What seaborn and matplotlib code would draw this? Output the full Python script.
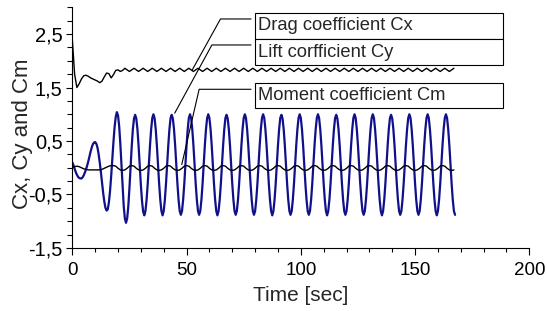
import numpy as np
import matplotlib
matplotlib.use("Agg")
import matplotlib.pyplot as plt
from matplotlib.patches import Rectangle
from matplotlib.ticker import FixedLocator, MultipleLocator, FuncFormatter
import seaborn as sns

# time grids (sec)
t_fine = np.arange(0, 168, 0.5)    # for Cy
t_coarse = np.arange(0, 168, 1.0)  # for Cx and Cm

# Lift coefficient Cy, read every 0.5 s
cy = [
    # 0 - 4.5 s
    0.10, 0.05, -0.02, -0.08, -0.13, -0.17, -0.19, -0.20, -0.20, -0.18,
    # 5 - 9.5 s
    -0.14, -0.09, -0.03, 0.04, 0.12, 0.21, 0.30, 0.38, 0.44, 0.47,
    # 10 - 14.5 s
    0.48, 0.45, 0.38, 0.26, 0.10, -0.08, -0.28, -0.47, -0.63, -0.75,
    # 15 - 19.5 s
    -0.80, -0.78, -0.65, -0.44, -0.16, 0.16, 0.48, 0.76, 0.95, 1.04,
    # 20 - 24.5 s
    0.98, 0.78, 0.46, 0.06, -0.36, -0.72, -0.95, -1.03, -0.95, -0.72,
    # 25 - 29.5 s
    -0.38, 0.02, 0.40, 0.72, 0.92, 0.99, 0.92, 0.72, 0.41, 0.05,
    # 30 - 35 s
    -0.32, -0.62, -0.82, -0.89, -0.81, -0.60, -0.30, 0.06, 0.42, 0.72,
    0.93,
    # 35.5 s onward, one cycle per row
    1.00, 0.93, 0.72, 0.42, 0.06, -0.30, -0.60, -0.81, -0.89, -0.81, -0.60, -0.30, 0.06, 0.42, 0.72, 0.93,
    0.99, 0.92, 0.72, 0.42, 0.06, -0.30, -0.60, -0.81, -0.88, -0.81, -0.60, -0.30, 0.06, 0.42, 0.72, 0.93,
    1.00, 0.93, 0.72, 0.42, 0.06, -0.30, -0.60, -0.81, -0.88, -0.81, -0.60, -0.30, 0.06, 0.42, 0.72, 0.93,
    1.00, 0.93, 0.72, 0.42, 0.06, -0.30, -0.60, -0.81, -0.89, -0.81, -0.60, -0.30, 0.06, 0.42, 0.72, 0.93,
    0.99, 0.92, 0.72, 0.42, 0.06, -0.30, -0.60, -0.81, -0.88, -0.81, -0.60, -0.30, 0.06, 0.42, 0.72, 0.93,
    1.00, 0.93, 0.72, 0.42, 0.06, -0.30, -0.60, -0.81, -0.88, -0.81, -0.60, -0.30, 0.06, 0.42, 0.72, 0.93,
    1.00, 0.93, 0.72, 0.42, 0.06, -0.30, -0.60, -0.81, -0.89, -0.81, -0.60, -0.30, 0.06, 0.42, 0.72, 0.93,
    0.99, 0.92, 0.72, 0.42, 0.06, -0.30, -0.60, -0.81, -0.88, -0.81, -0.60, -0.30, 0.06, 0.42, 0.72, 0.93,
    1.00, 0.93, 0.72, 0.42, 0.06, -0.30, -0.60, -0.81, -0.88, -0.81, -0.60, -0.30, 0.06, 0.42, 0.72, 0.93,
    1.00, 0.93, 0.72, 0.42, 0.06, -0.30, -0.60, -0.81, -0.89, -0.81, -0.60, -0.30, 0.06, 0.42, 0.72, 0.93,
    0.99, 0.92, 0.72, 0.42, 0.06, -0.30, -0.60, -0.81, -0.88, -0.81, -0.60, -0.30, 0.06, 0.42, 0.72, 0.93,
    1.00, 0.93, 0.72, 0.42, 0.06, -0.30, -0.60, -0.81, -0.88, -0.81, -0.60, -0.30, 0.06, 0.42, 0.72, 0.93,
    1.00, 0.93, 0.72, 0.42, 0.06, -0.30, -0.60, -0.81, -0.89, -0.81, -0.60, -0.30, 0.06, 0.42, 0.72, 0.93,
    0.99, 0.92, 0.72, 0.42, 0.06, -0.30, -0.60, -0.81, -0.88, -0.81, -0.60, -0.30, 0.06, 0.42, 0.72, 0.93,
    1.00, 0.93, 0.72, 0.42, 0.06, -0.30, -0.60, -0.81, -0.88, -0.81, -0.60, -0.30, 0.06, 0.42, 0.72, 0.93,
    1.00, 0.93, 0.72, 0.42, 0.06, -0.30, -0.60, -0.81, -0.89, -0.81, -0.60, -0.30, 0.06, 0.42, 0.72, 0.93,
    # 163.5 - 167.5 s
    1.00, 0.93, 0.72, 0.42, 0.06, -0.30, -0.60, -0.81, -0.88,
]

# Drag coefficient Cx, read every 1 s
cx = [
    2.40, 1.75, 1.50, 1.57, 1.66, 1.72, 1.73, 1.71, 1.68, 1.66, 1.64, 1.62,
    1.59, 1.62, 1.70, 1.77, 1.76, 1.68, 1.74, 1.82, 1.83, 1.80, 1.82, 1.86,
    # 24 s onward
    1.83, 1.80, 1.83, 1.86, 1.83, 1.80, 1.83, 1.86, 1.83, 1.80, 1.83, 1.86, 1.83, 1.80, 1.83, 1.86,
    1.83, 1.80, 1.83, 1.86, 1.83, 1.80, 1.83, 1.86, 1.83, 1.80, 1.83, 1.86, 1.83, 1.80, 1.83, 1.86,
    1.83, 1.80, 1.83, 1.86, 1.83, 1.80, 1.83, 1.86, 1.83, 1.80, 1.83, 1.86, 1.83, 1.80, 1.83, 1.86,
    1.83, 1.80, 1.83, 1.86, 1.83, 1.80, 1.83, 1.86, 1.83, 1.80, 1.83, 1.86, 1.83, 1.80, 1.83, 1.86,
    1.83, 1.80, 1.83, 1.86, 1.83, 1.80, 1.83, 1.86, 1.83, 1.80, 1.83, 1.86, 1.83, 1.80, 1.83, 1.86,
    1.83, 1.80, 1.83, 1.86, 1.83, 1.80, 1.83, 1.86, 1.83, 1.80, 1.83, 1.86, 1.83, 1.80, 1.83, 1.86,
    1.83, 1.80, 1.83, 1.86, 1.83, 1.80, 1.83, 1.86, 1.83, 1.80, 1.83, 1.86, 1.83, 1.80, 1.83, 1.86,
    1.83, 1.80, 1.83, 1.86, 1.83, 1.80, 1.83, 1.86, 1.83, 1.80, 1.83, 1.86, 1.83, 1.80, 1.83, 1.86,
    1.83, 1.80, 1.83, 1.86, 1.83, 1.80, 1.83, 1.86, 1.83, 1.80, 1.83, 1.86, 1.83, 1.80, 1.83, 1.86,
]

# Moment coefficient Cm, read every 1 s
cm = [
    0.00, 0.02, 0.03, 0.02, 0.00, -0.02, -0.03, -0.04, -0.04,
    -0.04, -0.04, -0.04, -0.04, -0.03, -0.01, 0.01, 0.03, 0.04,
    # 18 s onward, two cycles per row
    0.04, 0.03, -0.01, -0.04, -0.05, -0.04, -0.01, 0.03, 0.04, 0.03, -0.01, -0.04, -0.05, -0.04, -0.01, 0.03,
    0.04, 0.03, -0.01, -0.04, -0.05, -0.04, -0.01, 0.03, 0.04, 0.03, -0.01, -0.04, -0.05, -0.04, -0.01, 0.03,
    0.04, 0.03, -0.01, -0.04, -0.05, -0.04, -0.01, 0.03, 0.04, 0.03, -0.01, -0.04, -0.05, -0.04, -0.01, 0.03,
    0.04, 0.03, -0.01, -0.04, -0.05, -0.04, -0.01, 0.03, 0.04, 0.03, -0.01, -0.04, -0.05, -0.04, -0.01, 0.03,
    0.04, 0.03, -0.01, -0.04, -0.05, -0.04, -0.01, 0.03, 0.04, 0.03, -0.01, -0.04, -0.05, -0.04, -0.01, 0.03,
    0.04, 0.03, -0.01, -0.04, -0.05, -0.04, -0.01, 0.03, 0.04, 0.03, -0.01, -0.04, -0.05, -0.04, -0.01, 0.03,
    0.04, 0.03, -0.01, -0.04, -0.05, -0.04, -0.01, 0.03, 0.04, 0.03, -0.01, -0.04, -0.05, -0.04, -0.01, 0.03,
    0.04, 0.03, -0.01, -0.04, -0.05, -0.04, -0.01, 0.03, 0.04, 0.03, -0.01, -0.04, -0.05, -0.04, -0.01, 0.03,
    0.04, 0.03, -0.01, -0.04, -0.05, -0.04, -0.01, 0.03, 0.04, 0.03, -0.01, -0.04, -0.05, -0.04, -0.01, 0.03,
    # 162 - 167 s
    0.04, 0.03, -0.01, -0.04, -0.05, -0.04,
]

labels = ["Drag coefficient Cx", "Lift corfficient Cy", "Moment coefficient Cm"]
x_ticks = [0, 50, 100, 150, 200]
y_ticks = [-1.5, -0.5, 0.5, 1.5, 2.5]

sns.set_style("ticks")
plt.rcParams['font.family'] = ['Liberation Sans', 'DejaVu Sans']

fig = plt.figure(figsize=(5.47, 3.11), dpi=100)
ax = fig.add_axes([0.1322, 0.2026, 0.8355, 0.774])

sns.lineplot(x=t_coarse, y=cx, color='black', linewidth=1.0, ax=ax)
sns.lineplot(x=t_fine, y=cy, color='#10108a', linewidth=1.6, ax=ax)
sns.lineplot(x=t_coarse, y=cm, color='black', linewidth=1.0, ax=ax)

ax.set_xlim(0, 200)
ax.set_ylim(-1.5, 3.0)
ax.xaxis.set_major_locator(FixedLocator(x_ticks))
ax.xaxis.set_minor_locator(MultipleLocator(10))
ax.yaxis.set_major_locator(FixedLocator(y_ticks))
ax.yaxis.set_minor_locator(MultipleLocator(0.25))
comma = FuncFormatter(lambda v, p: f"{v:g}".replace('.', ','))
ax.xaxis.set_major_formatter(comma)
ax.yaxis.set_major_formatter(comma)

sns.despine(ax=ax)
for side in ['left', 'bottom']:
    ax.spines[side].set_linewidth(0.8)
    ax.spines[side].set_color('black')
ax.tick_params(which='both', direction='out', color='black', width=0.8,
               labelcolor='black')
ax.tick_params(axis='x', which='major', length=4.8, labelsize=13.5, pad=5.5)
ax.tick_params(axis='x', which='minor', length=3)
ax.tick_params(axis='y', which='major', length=4, labelsize=14.5, pad=3)
ax.tick_params(axis='y', which='minor', length=3.6)

ax.set_xlabel('Time [sec]', fontsize=15)
ax.xaxis.set_label_coords(0.5, -0.158)
ax.set_ylabel('Cx, Cy and Cm', fontsize=16)
ax.yaxis.set_label_coords(-0.086, 0.474)

# callout boxes
box_x, box_w = 0.3998, 0.5427
box_rows = [(0.8671, 0.1105), (0.7603, 0.1068), (0.5804, 0.1039)]
for (by, bh), text in zip(box_rows, labels):
    ax.add_patch(Rectangle((box_x, by), box_w, bh, transform=ax.transAxes,
                           facecolor='white', edgecolor='black', lw=0.8,
                           clip_on=False, zorder=5))
    ax.text(box_x + 0.006, by + bh / 2, text, transform=ax.transAxes,
            ha='left', va='center', fontsize=13.2, zorder=6)

# leader lines: start left of box, go horizontal, then down to the curve
leaders = [
    ((52.5, 1.83), 0.9514, 61),
    ((44.8, 1.02), 0.8434, 61.4),
    ((47.9, 0.06), 0.6593, 77),
]
for target, sy, ang in leaders:
    ax.annotate('', xy=target, xycoords='data', xytext=(0.391, sy),
                textcoords='axes fraction',
                arrowprops=dict(arrowstyle='-', color='black', lw=0.8,
                                shrinkA=0, shrinkB=0,
                                connectionstyle=f'angle,angleA=0,angleB={ang},rad=0'),
                zorder=4)

fig.savefig('out.png', dpi=100)
